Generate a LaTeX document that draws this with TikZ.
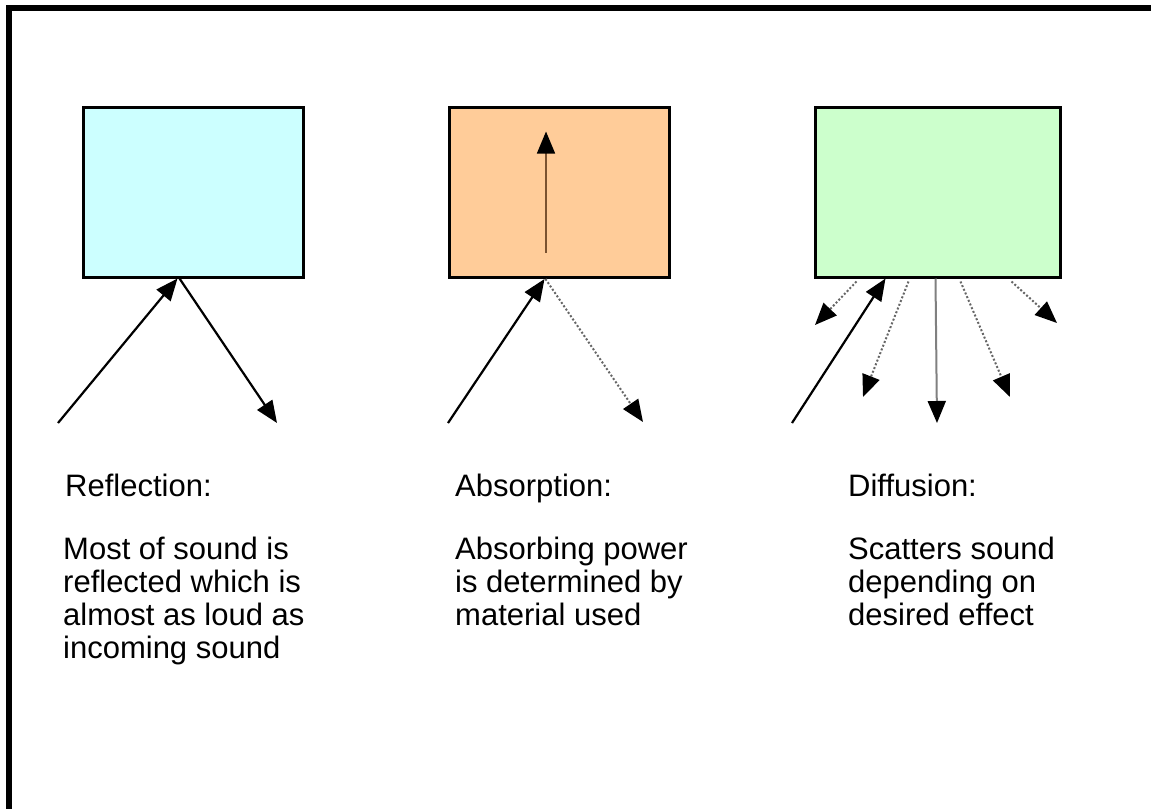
\documentclass[tikz,border=0pt]{standalone}
\usepackage{fontspec}
\setmainfont{Liberation Sans}
\usetikzlibrary{arrows.meta}
\definecolor{cyanfill}{HTML}{CCFFFF}
\definecolor{orangefill}{HTML}{FFCC99}
\definecolor{greenfill}{HTML}{CCFFCC}
\definecolor{brownline}{HTML}{7A5230}
\tikzset{
  box/.style={draw=black, line width=3pt, minimum width=220pt, minimum height=170pt, inner sep=0pt},
  tip/.style={-{Triangle[length=22pt,width=18pt,color=black,fill=black]}},
  solidarrow/.style={tip, draw=black, line width=2.2pt},
  dotarrow/.style={tip, draw=gray!80!black, line width=2pt, dash pattern=on 2pt off 2pt},
  grayarrow/.style={tip, draw=gray, line width=2pt},
  innerarrow/.style={tip, draw=brownline, line width=1.5pt},
  title/.style={anchor=north west, inner sep=0pt, font=\fontsize{31pt}{33pt}\selectfont},
  body/.style={anchor=north west, inner sep=0pt, align=left, font=\fontsize{31pt}{33pt}\selectfont},
  frame/.style={line width=6pt, draw=black}
}
\begin{document}
\begin{tikzpicture}[x=1pt, y=-1pt]
\useasboundingbox (0,0) rectangle (1151,809);
% frame (top and left edges)
\coordinate (ftl) at (9,8);
\coordinate (ftr) at (1151,8);
\coordinate (fbl) at (9,809);
\draw[frame] (ftr) -- (ftl) -- (fbl);

% boxes
\node[box, fill=cyanfill]   (b1) at (193,192) {};
\node[box, fill=orangefill] (b2) at (559,192.5) {};
\node[box, fill=greenfill, minimum width=245pt] (b3) at (937.5,192) {};

% Reflection arrows
\coordinate (r1) at (58,423);
\coordinate (r2) at (277,423);
\draw[solidarrow] (r1) -- ([xshift=96pt]b1.south west);
\draw[solidarrow] ([xshift=98pt]b1.south west) -- (r2);

% Absorption arrows
\coordinate (a1) at (448,423);
\coordinate (a2) at (643,422);
\draw[solidarrow] (a1) -- ([xshift=97pt]b2.south west);
\draw[dotarrow] ([xshift=98pt]b2.south west) -- (a2);
\draw[innerarrow] ([xshift=-13pt,yshift=-60pt]b2.center) -- ([xshift=-13pt,yshift=61pt]b2.center);

% Diffusion arrows
\coordinate (d0) at (792,423);
\coordinate (d1) at (815,325);
\coordinate (d2) at (863,397);
\coordinate (d3) at (937,423);
\coordinate (d4) at (1010,397);
\coordinate (d5) at (1057,323);
\draw[solidarrow] (d0) -- ([xshift=72pt]b3.south west);
\draw[dotarrow] ([xshift=43pt,yshift=-3pt]b3.south west) -- (d1);
\draw[dotarrow] ([xshift=95pt,yshift=-3pt]b3.south west) -- (d2);
\draw[grayarrow] ([xshift=122pt]b3.south west) -- (d3);
\draw[dotarrow] ([xshift=147pt,yshift=-3pt]b3.south west) -- (d4);
\draw[dotarrow] ([xshift=198pt,yshift=-3pt]b3.south west) -- (d5);

% texts
\node[title] (t1) at (65,474) {Reflection:};
\node[body]  (p1) at (63,537) {Most of sound is\\reflected which is\\almost as loud as\\incoming sound};
\node[title] (t2) at (455,474) {Absorption:};
\node[body]  (p2) at (455,537) {Absorbing power\\is determined by\\material used};
\node[title] (t3) at (848,474) {Diffusion:};
\node[body]  (p3) at (848,537) {Scatters sound\\depending on\\desired effect};
\end{tikzpicture}
\end{document}
